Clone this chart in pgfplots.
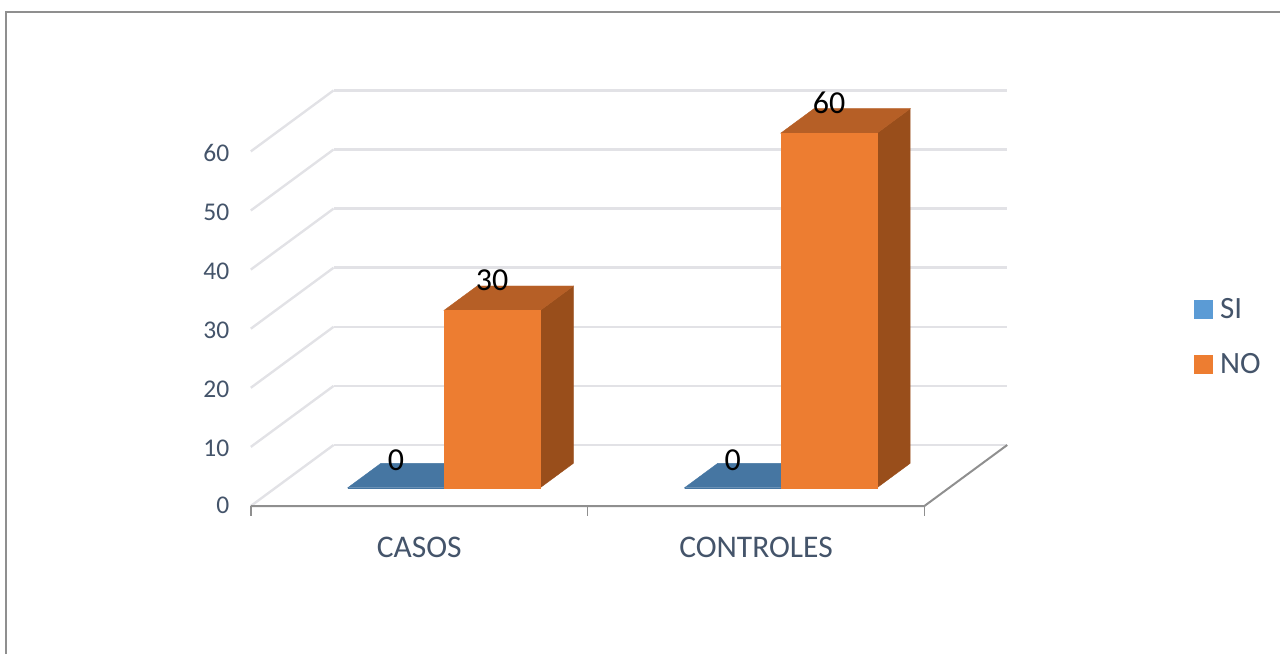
\documentclass[border=0pt]{standalone}
\usepackage{pgfplots}
\pgfplotsset{compat=1.18}
\usepackage{fontspec}
\setmainfont{Carlito}
\definecolor{txt}{HTML}{44546A}
\definecolor{gridc}{HTML}{E2E2E6}
\definecolor{floorc}{HTML}{8F8F8F}
\definecolor{siblue}{HTML}{5B9BD5}
\definecolor{sitop}{HTML}{4676A2}
\definecolor{nofront}{HTML}{ED7D31}
\definecolor{notop}{HTML}{B65F26}
\definecolor{noside}{HTML}{994E1B}
% one 3D bar: x0, x1, value, front, top, side
\newcommand{\barbox}[6]{
  \addplot3[draw=#6,line width=0.4pt,fill=#6,forget plot] coordinates {(#2,0.3,0) (#2,0.7,0) (#2,0.7,#3) (#2,0.3,#3)} -- cycle;
  \addplot3[draw=#5,line width=0.4pt,fill=#5,forget plot] coordinates {(#1,0.3,#3) (#2,0.3,#3) (#2,0.7,#3) (#1,0.7,#3)} -- cycle;
  \addplot3[draw=#4,line width=0.4pt,fill=#4,forget plot] coordinates {(#1,0.3,0) (#2,0.3,0) (#2,0.3,#3) (#1,0.3,#3)} -- cycle;
}
\begin{document}
\begin{tikzpicture}
\path[use as bounding box] (0,0) rectangle (1280pt,654pt);
\draw[color=floorc,line width=1.6pt] (6pt,0) -- (6pt,642pt) -- (1280pt,642pt);
\begin{axis}[
  at={(250.8pt,148pt)},anchor=origin,
  x={(336.8pt,0pt)},y={(82.8pt,61pt)},z={(0pt,5.91pt)},
  xmin=0,xmax=2,ymin=0,ymax=1,zmin=0,zmax=60,
  clip=false,
  axis line style={draw=none},
  tick style={draw=none},
  xtick={0.5,1.5},xticklabels={CASOS,CONTROLES},
  ytick=\empty,
  ztick={0,10,...,60},
  zmajorgrids=true,
  grid style={color=gridc,line width=2.4pt},
  ticklabel style={text=txt},
  xticklabel style={font=\fontsize{31.5}{34}\selectfont,anchor=north,yshift=-28pt},
  zticklabel style={font=\fontsize{25.5}{28}\selectfont,xshift=-18pt,yshift=4pt},
  /pgf/number format/assume math mode=true,
  legend style={draw=none,fill=none,at={(1.243,0.407)},anchor=west,font=\fontsize{31}{33}\selectfont,text=txt,row sep=29pt},
  legend cell align=left,
]
% floor and the tick marks of the category axis
\addplot3[color=floorc,line width=2pt,forget plot] coordinates {(2,1,0) (2,0,0) (0,0,0)};
\addplot3[color=floorc,line width=1.6pt,forget plot] coordinates {(0,0,0) (0,0,-1.7)};
\addplot3[color=floorc,line width=1.6pt,forget plot] coordinates {(1,0,0) (1,0,-1.7)};
\addplot3[color=floorc,line width=1.6pt,forget plot] coordinates {(2,0,0) (2,0,-1.7)};
% bars
\barbox{0.2143}{0.5}{0}{sitop}{sitop}{sitop}
\barbox{0.5}{0.7857}{30}{nofront}{notop}{noside}
\barbox{1.2143}{1.5}{0}{sitop}{sitop}{sitop}
\barbox{1.5}{1.7857}{60}{nofront}{notop}{noside}
% value labels
\addplot3[only marks,mark=none,point meta=z,forget plot,
  nodes near coords,nodes near coords style={anchor=center,yshift=27pt,text=black,font=\fontsize{32}{34}\selectfont}]
  coordinates {(0.357,0.3,0) (1.357,0.3,0)};
\addplot3[only marks,mark=none,point meta=z,forget plot,
  nodes near coords,nodes near coords style={anchor=center,yshift=30pt,text=black,font=\fontsize{32}{34}\selectfont}]
  coordinates {(0.643,0.3,30) (1.643,0.3,60)};
\addlegendimage{only marks,mark=square*,mark size=9pt,color=siblue}
\addlegendentry{\hspace{6pt}SI}
\addlegendimage{only marks,mark=square*,mark size=9pt,color=nofront}
\addlegendentry{\hspace{6pt}NO}
\end{axis}
\end{tikzpicture}
\end{document}
